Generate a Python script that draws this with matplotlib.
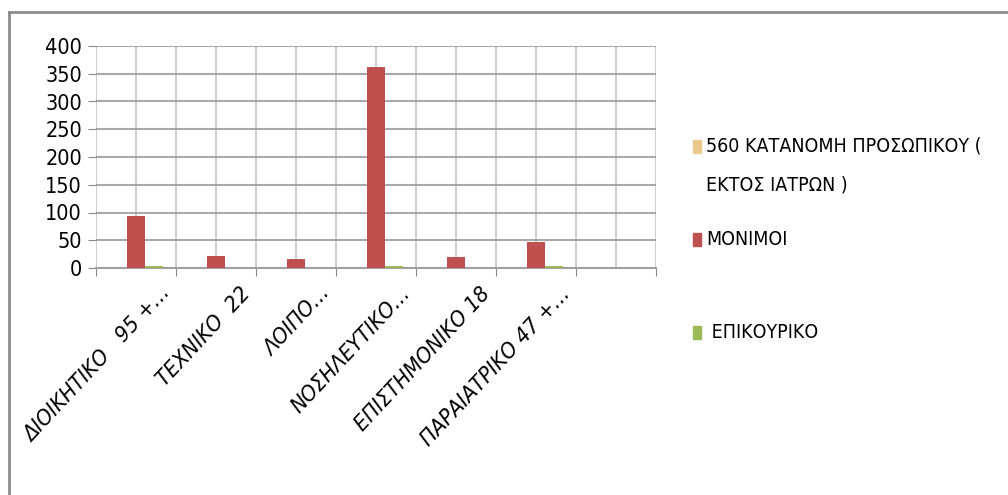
import numpy as np
import matplotlib
matplotlib.use("Agg")
import matplotlib.pyplot as plt
from matplotlib.patches import Rectangle
from matplotlib.lines import Line2D

plt.rcParams['font.family'] = ['DejaVu Sans']
plt.rcParams['font.stretch'] = 'condensed'

# data
categories = ["ΔΙΟΙΚΗΤΙΚΟ   95 +…", "ΤΕΧΝΙΚΟ  22", "ΛΟΙΠΟ…", "ΝΟΣΗΛΕΥΤΙΚΟ…",
              "ΕΠΙΣΤΗΜΟΝΙΚΟ 18", "ΠΑΡΑΙΑΤΡΙΚΟ 47 +…", ""]
series_names = ["560 ΚΑΤΑΝΟΜΗ ΠΡΟΣΩΠΙΚΟΥ (\nΕΚΤΟΣ ΙΑΤΡΩΝ )", "ΜΟΝΙΜΟΙ", " ΕΠΙΚΟΥΡΙΚΟ"]
katanomi = [0, 0, 0, 0, 0, 0, 0]
monimoi = [93, 22, 17, 363, 19, 46, 0]
epikouriko = [3, 0, 0, 3, 0, 3, 0]
colors = ['#EBC98C', '#C0504D', '#9BBB59']

fig = plt.figure(figsize=(10.08, 4.95), dpi=100)
ax = fig.add_axes([96/1008, 1 - 268/495, 560/1008, 222/495])

x = np.arange(len(categories))
w = 1 / 4.5
for i, vals in enumerate([katanomi, monimoi, epikouriko]):
    ax.bar(x + (i - 1) * w, vals, width=w, color=colors[i], zorder=3)

ax.set_xlim(-0.5, len(categories) - 0.5)
ax.set_ylim(0, 400)
ax.set_yticks(np.arange(0, 401, 50))
ax.tick_params(axis='y', labelsize=15.5, length=6, color='#888888', pad=4)

# vertical grid at half-category steps, horizontal grid at every tick
for gx in np.arange(-0.5, len(categories) - 0.4, 0.5):
    ax.axvline(gx, color='#c8c8c8', lw=1.3, zorder=1)
for gy in np.arange(50, 401, 50):
    ax.axhline(gy, color='#a8a8a8', lw=1.5, zorder=1)

ax.set_xticks(np.arange(-0.5, len(categories), 1))
ax.set_xticklabels([])
ax.tick_params(axis='x', length=6, color='#888888')
for xi, lab in zip(x, categories):
    ax.annotate(lab, (xi, 0), xycoords=('data', 'axes fraction'),
                xytext=(17, -11), textcoords='offset points',
                rotation=47, rotation_mode='anchor', ha='right', va='top',
                fontsize=16, style='italic')

for s in ['top', 'right']:
    ax.spines[s].set_visible(False)
ax.spines['left'].set_visible(False)
ax.spines['bottom'].set_color('#a0a0a0')
ax.spines['bottom'].set_linewidth(1.5)

# legend placed by hand
leg_y = [147, 240, 333]
for name, c, yy in zip(series_names, colors, leg_y):
    fig.patches.append(Rectangle((693/1008, 1 - (yy + 6)/495), 8/1008, 13/495,
                                 transform=fig.transFigure, color=c))
    fig.text(706/1008, 1 - (yy - 10)/495, name, fontsize=14, va='top',
             linespacing=2.3)

# outer chart frame (cropped at right and bottom)
fig.add_artist(Line2D([9/1008, 9/1008], [0, 1 - 12/495], transform=fig.transFigure,
                      color='#8c8c8c', lw=2))
fig.add_artist(Line2D([9/1008, 1], [1 - 12/495, 1 - 12/495], transform=fig.transFigure,
                      color='#8c8c8c', lw=2))

fig.savefig("out.png", dpi=100)
